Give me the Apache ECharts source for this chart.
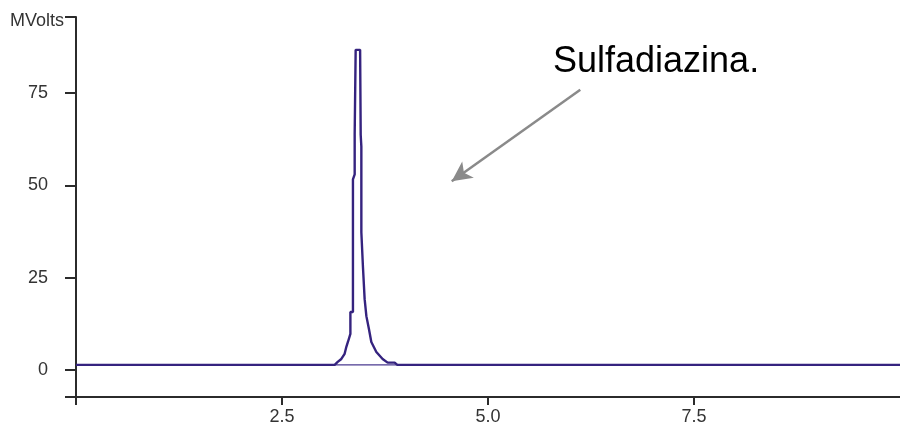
<!DOCTYPE html>
<html>
<head>
<meta charset="utf-8">
<script src="https://cdn.jsdelivr.net/npm/echarts@6/dist/echarts.min.js"></script>
<style>
  html, body { margin: 0; padding: 0; background: #fff; }
  #chart { width: 900px; height: 426px; }
</style>
</head>
<body>
<div id="chart"></div>
<script>
// Chromatogram trace: retention time (min) and detector signal (mV)
const retentionTime = [0, 3.139, 3.176, 3.22, 3.26, 3.281, 3.30, 3.330, 3.330, 3.361, 3.361, 3.382, 3.382, 3.394, 3.418, 3.448, 3.455, 3.463, 3.463, 3.482, 3.503, 3.524, 3.555, 3.584, 3.645, 3.721, 3.782, 3.867, 3.90, 10];
const signal = [1.4, 1.4, 2.2, 3.0, 4.4, 6.3, 7.6, 9.8, 15.7, 15.7, 51.6, 53.0, 63.7, 86.7, 87.2, 86.7, 63.7, 60.5, 37.3, 28.1, 19.2, 14.6, 11.1, 7.6, 4.9, 3.0, 2.0, 2.0, 1.4, 1.4];

// Integration baseline drawn under the peak
const peakBaseTime = [3.139, 3.90];
const peakBaseSignal = [1.4, 1.4];

// Axis ranges and tick positions
const timeRange = [0, 10];
const timeTicks = [0, 2.5, 5, 7.5];
const timeLabels = [2.5, 5, 7.5];
const signalRange = [-7.3, 95.6];
const signalTicks = [-7.3, 0, 25, 50, 75, 95.6];
const signalLabels = [0, 25, 50, 75];

// Peak annotation
const peakName = 'Sulfadiazina.';
const arrowFrom = [6.12, 75.9];
const arrowTo = [4.56, 51.1];

const trace = retentionTime.map((t, i) => [t, signal[i]]);
const peakBase = peakBaseTime.map((t, i) => [t, peakBaseSignal[i]]);

const axisColor = '#2b2b2b';
const labelColor = '#333333';
const font = '"Liberation Sans", Arial, sans-serif';

const chart = echarts.init(document.getElementById('chart'), null, { renderer: 'canvas' });
chart.setOption({
  animation: false,
  backgroundColor: '#ffffff',
  grid: { left: 76, right: 0, top: 17, bottom: 28, containLabel: false },
  xAxis: {
    type: 'value',
    min: timeRange[0],
    max: timeRange[1],
    axisLine: { onZero: false, lineStyle: { color: axisColor, width: 2 } },
    axisTick: { show: true, length: 8, customValues: timeTicks, lineStyle: { color: axisColor, width: 2 } },
    axisLabel: {
      customValues: timeLabels,
      margin: 11,
      color: labelColor,
      fontFamily: font,
      fontSize: 18,
      formatter: v => v.toFixed(1)
    },
    splitLine: { show: false }
  },
  yAxis: {
    type: 'value',
    min: signalRange[0],
    max: signalRange[1],
    axisLine: { show: true, onZero: false, lineStyle: { color: axisColor, width: 2 } },
    axisTick: { show: true, length: 11, customValues: signalTicks, lineStyle: { color: axisColor, width: 2 } },
    axisLabel: {
      customValues: signalLabels,
      margin: 28,
      color: labelColor,
      fontFamily: font,
      fontSize: 18
    },
    splitLine: { show: false }
  },
  series: [
    {
      type: 'line',
      data: peakBase,
      symbol: 'none',
      silent: true,
      lineStyle: { color: '#4a3a90', width: 1.2 }
    },
    {
      type: 'line',
      data: trace,
      symbol: 'none',
      lineStyle: { color: '#35237f', width: 2.4 },
      markLine: {
        silent: true,
        symbol: ['none', 'arrow'],
        symbolSize: [15, 20],
        label: { show: false },
        lineStyle: { color: '#8a8a8a', width: 2.5, type: 'solid' },
        data: [[{ coord: arrowFrom }, { coord: arrowTo }]]
      }
    }
  ],
  graphic: [
    {
      type: 'text',
      left: 10,
      top: 12,
      style: { text: 'MVolts', fill: labelColor, font: '18px ' + font }
    },
    {
      type: 'text',
      left: 553,
      top: 44,
      style: { text: peakName, fill: '#000000', font: '36px ' + font }
    }
  ]
});
</script>
</body>
</html>
